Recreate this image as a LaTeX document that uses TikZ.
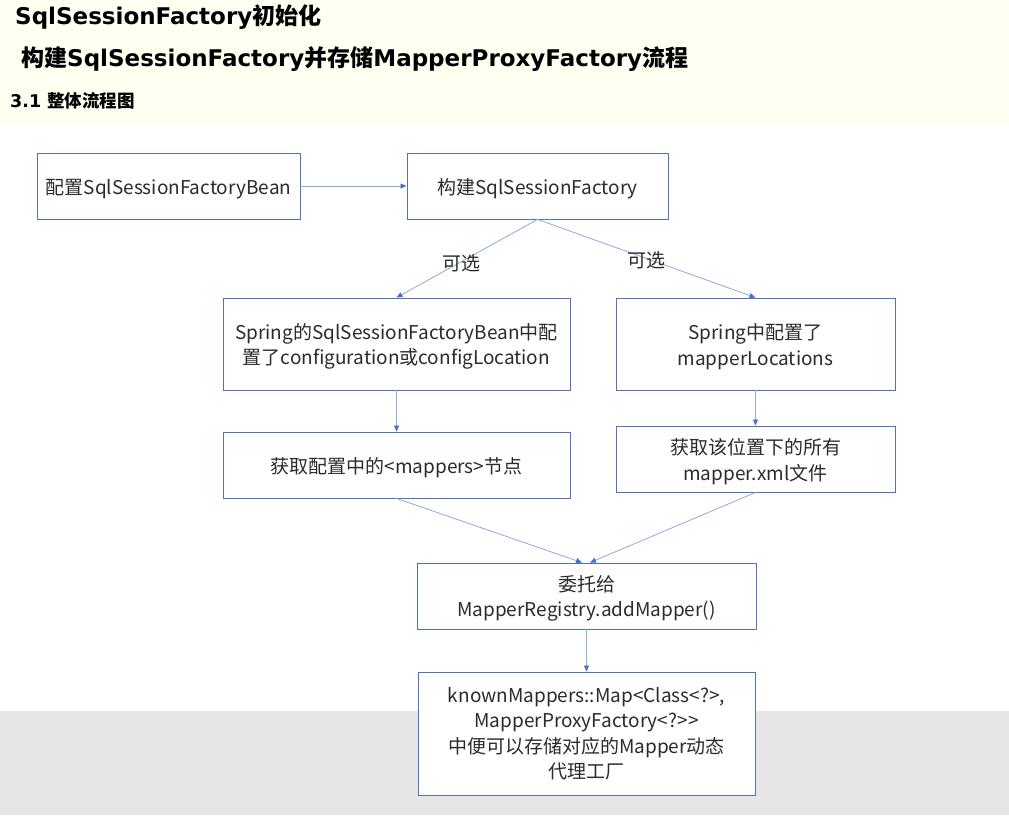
\documentclass[tikz,border=0pt]{standalone}
\usepackage{fontspec}
\setmainfont{Noto Sans CJK SC}
\newfontfamily\hdlat{DejaVu Sans}
\newfontfamily\cjk{Noto Sans CJK SC}
\usetikzlibrary{arrows.meta,calc}
\definecolor{boxblue}{HTML}{4F72C0}
\definecolor{lineblue}{HTML}{8EAADB}
\definecolor{tipblue}{HTML}{4472C4}
\definecolor{txt}{HTML}{2B2B2B}
\definecolor{hdbg}{HTML}{FFFFF2}
\definecolor{footbg}{HTML}{E6E6E6}
\newcommand\tpstrut{\rule{0pt}{21pt}}
\tikzset{
  flowbox/.style={draw=boxblue, line width=0.9pt, fill=white, text=txt, font=\fontsize{19}{25.5}\selectfont, align=center, inner sep=2pt},
  conn/.style={draw=lineblue, line width=0.8pt, -{Triangle[length=6pt,width=5pt,color=tipblue]}},
  lbl/.style={text=txt, font=\fontsize{19}{22}\selectfont, inner sep=0pt},
  hd/.style={anchor=west, inner sep=0pt, text=black}
}
\begin{document}
\begin{tikzpicture}[x=1pt,y=-1pt]
\useasboundingbox (0,0) rectangle (1009,815);
\fill[hdbg] (0,0) rectangle (1009,125);
\fill[white] (0,125) rectangle (1009,711);
\fill[footbg] (0,711) rectangle (1009,815);

\node[hd] (t1) at (15,17) {\fontsize{23}{26}\selectfont\hdlat\bfseries SqlSessionFactory\cjk\bfseries 初始化};
\node[hd] (t2) at (21,59) {\fontsize{23}{26}\selectfont\cjk\bfseries 构建\hdlat\bfseries SqlSessionFactory\cjk\bfseries 并存储\hdlat\bfseries MapperProxyFactory\cjk\bfseries 流程};
\node[hd] (t3) at (10,101) {\fontsize{17.5}{20}\selectfont\hdlat\bfseries 3.1 \cjk\bfseries 整体流程图};

\node[flowbox, minimum width=263pt, minimum height=66pt] (b1) at (168.5,186) {\tpstrut 配置SqlSessionFactoryBean};
\node[flowbox, minimum width=261pt, minimum height=66pt] (b2) at (537.5,186) {\tpstrut 构建SqlSessionFactory};
\node[flowbox, minimum width=347pt, minimum height=92pt] (b3) at (396.5,344) {\tpstrut Spring的SqlSessionFactoryBean中配\\置了configuration或configLocation};
\node[flowbox, minimum width=279pt, minimum height=92pt] (b4) at (755.5,344) {\tpstrut Spring中配置了\\mapperLocations};
\node[flowbox, minimum width=347pt, minimum height=66pt] (b5) at (396.5,465) {\tpstrut 获取配置中的<mappers>节点};
\node[flowbox, minimum width=279pt, minimum height=66pt] (b6) at (755.5,459) {\tpstrut 获取该位置下的所有\\mapper.xml文件};
\node[flowbox, minimum width=339pt, minimum height=66pt] (b7) at (586.5,596) {\tpstrut 委托给\\MapperRegistry.addMapper()};
\node[flowbox, minimum width=337pt, minimum height=123pt] (b8) at (586.5,733.5) {knownMappers::Map<Class<?>,\\MapperProxyFactory<?>{}>\\中便可以存储对应的Mapper动态\\代理工厂};

\coordinate (b7l) at ($(b7.north)+(-4.5,0)$);
\coordinate (b7r) at ($(b7.north)+(3.5,0)$);

\draw[conn] (b1.east) -- (b2.west);
\draw[conn] (b2.south) -- (b3.north);
\draw[conn] (b2.south) -- (b4.north);
\draw[conn] (b3.south) -- (b5.north);
\draw[conn] (b4.south) -- (b6.north);
\draw[conn] (b5.south) -- (b7l);
\draw[conn] (b6.south) -- (b7r);
\draw[conn] (b7.south) -- (b8.north);

\node[lbl] (l1) at (461,263) {可选};
\node[lbl] (l2) at (646,260) {可选};
\end{tikzpicture}
\end{document}
